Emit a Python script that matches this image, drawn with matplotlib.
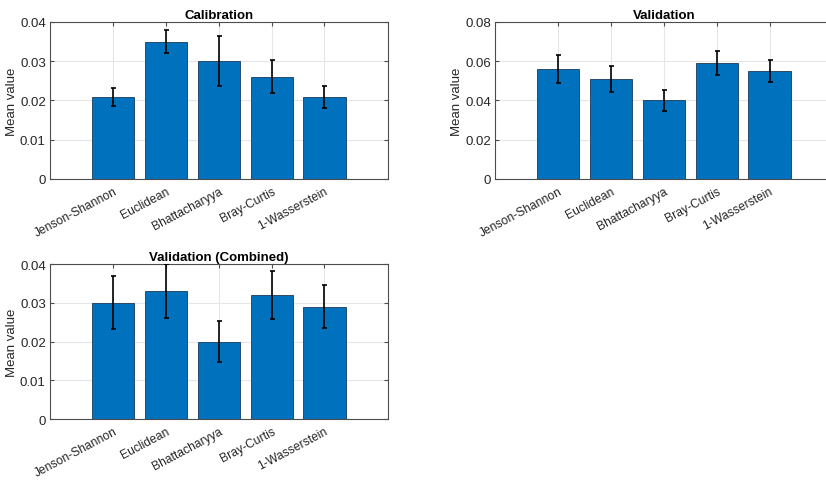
import numpy as np
import matplotlib.pyplot as plt

metrics = ['Jenson-Shannon', 'Euclidean', 'Bhattacharyya', 'Bray-Curtis', '1-Wasserstein']

calib_mean = [0.021, 0.035, 0.030, 0.026, 0.021]
calib_err = [0.0023, 0.0030, 0.0064, 0.0042, 0.0028]

valid_mean = [0.056, 0.051, 0.040, 0.059, 0.055]
valid_err = [0.0070, 0.0068, 0.0054, 0.0062, 0.0056]

comb_mean = [0.030, 0.033, 0.020, 0.032, 0.029]
comb_err = [0.0068, 0.0069, 0.0054, 0.0063, 0.0055]

plt.rcParams['font.family'] = ['Liberation Sans', 'DejaVu Sans']

bar_color = '#0072BD'
text_color = '#262626'
axis_color = '#4d4d4d'


def bar_panel(ax, means, errs, title, ymax, yticks, ticklabels):
    x = np.arange(1, len(metrics) + 1)
    ax.bar(x, means, width=0.8, color=bar_color, edgecolor='#1a3a5a',
           linewidth=0.6, zorder=2)
    ax.errorbar(x, means, yerr=errs, fmt='none', ecolor='black',
                elinewidth=1.2, capsize=1.8, capthick=1.2, zorder=3)
    ax.set_xlim(-0.2, 6.2)
    ax.set_ylim(0, ymax)
    ax.set_xticks(x)
    ax.set_xticklabels(metrics, rotation=28, ha='right', rotation_mode='anchor',
                       fontsize=8.7, color=text_color)
    ax.set_yticks(yticks)
    ax.set_yticklabels(ticklabels, fontsize=9.5, color=text_color)
    ax.set_ylabel('Mean value', fontsize=9.5, color=text_color)
    ax.yaxis.set_label_coords(-0.094, 0.5)
    ax.set_title(title, fontsize=9.5, fontweight='bold', color='black', pad=3)
    ax.grid(True, color='#e6e6e6', linewidth=0.8, zorder=0)
    ax.set_axisbelow(True)
    ax.tick_params(direction='in', top=True, right=True, length=3,
                   color=axis_color)
    ax.tick_params(axis='y', pad=3)
    ax.tick_params(axis='x', pad=4)
    for s in ax.spines.values():
        s.set_color(axis_color)
        s.set_linewidth(0.8)


fig = plt.figure(figsize=(8.26, 4.81), dpi=100)

ax1 = fig.add_axes([0.0605, 0.6258, 0.409, 0.3264])
bar_panel(ax1, calib_mean, calib_err, 'Calibration', 0.04,
          [0, 0.01, 0.02, 0.03, 0.04], ['0', '0.01', '0.02', '0.03', '0.04'])

ax2 = fig.add_axes([0.5993, 0.6258, 0.409, 0.3264])
bar_panel(ax2, valid_mean, valid_err, 'Validation', 0.08,
          [0, 0.02, 0.04, 0.06, 0.08], ['0', '0.02', '0.04', '0.06', '0.08'])

ax3 = fig.add_axes([0.0605, 0.1268, 0.409, 0.3222])
bar_panel(ax3, comb_mean, comb_err, 'Validation (Combined)', 0.04,
          [0, 0.01, 0.02, 0.03, 0.04], ['0', '0.01', '0.02', '0.03', '0.04'])

fig.savefig('out.png', dpi=100)
